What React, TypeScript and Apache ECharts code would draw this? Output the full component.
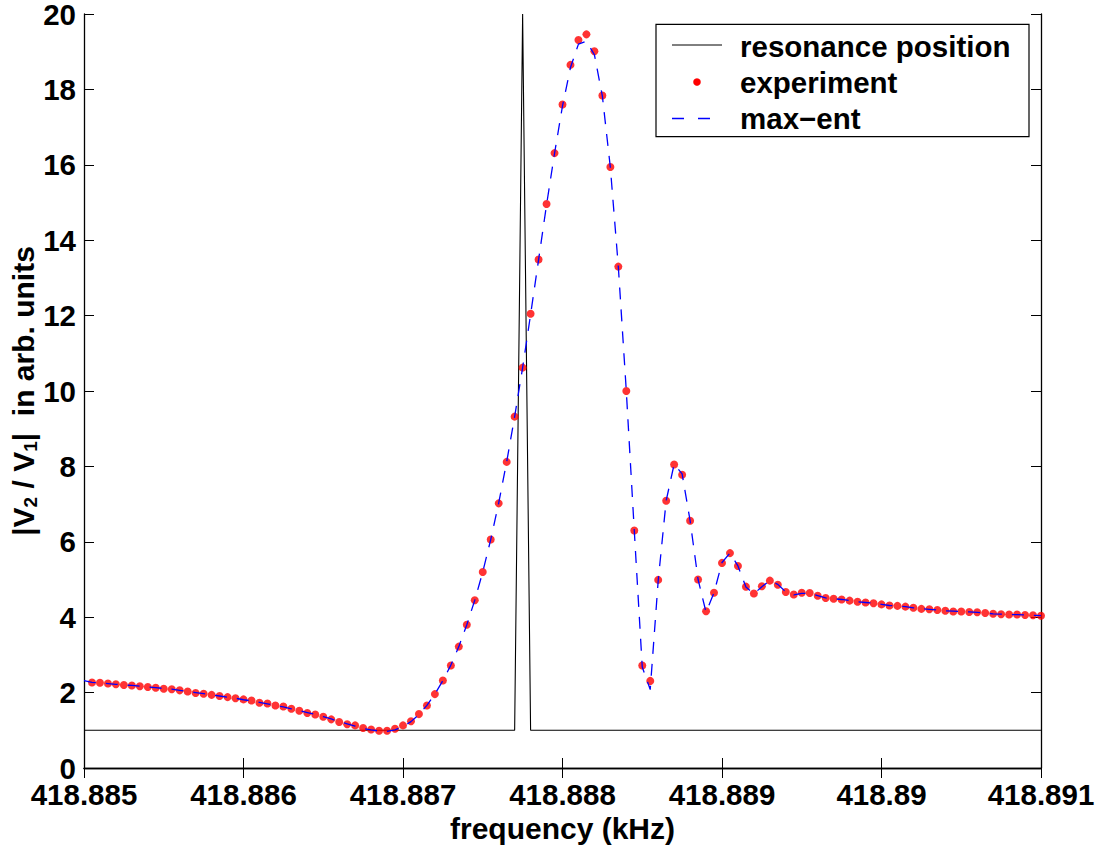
import React, { useEffect, useRef } from "react";
import * as echarts from "echarts";

// experiment sampling frequencies (kHz)
const freq = [
  418.88505, 418.8851, 418.88515, 418.8852, 418.88525, 418.8853, 418.88535, 418.8854, 418.88545, 418.8855,
  418.88555, 418.8856, 418.88565, 418.8857, 418.88575, 418.8858, 418.88585, 418.8859, 418.88595, 418.886,
  418.88605, 418.8861, 418.88615, 418.8862, 418.88625, 418.8863, 418.88635, 418.8864, 418.88645, 418.8865,
  418.88655, 418.8866, 418.88665, 418.8867, 418.88675, 418.8868, 418.88685, 418.8869, 418.88695, 418.887,
  418.88705, 418.8871, 418.88715, 418.8872, 418.88725, 418.8873, 418.88735, 418.8874, 418.88745, 418.8875,
  418.88755, 418.8876, 418.88765, 418.8877, 418.88775, 418.8878, 418.88785, 418.8879, 418.88795, 418.888,
  418.88805, 418.8881, 418.88815, 418.8882, 418.88825, 418.8883, 418.88835, 418.8884, 418.88845, 418.8885,
  418.88855, 418.8886, 418.88865, 418.8887, 418.88875, 418.8888, 418.88885, 418.8889, 418.88895, 418.889,
  418.88905, 418.8891, 418.88915, 418.8892, 418.88925, 418.8893, 418.88935, 418.8894, 418.88945, 418.8895,
  418.88955, 418.8896, 418.88965, 418.8897, 418.88975, 418.8898, 418.88985, 418.8899, 418.88995, 418.89,
  418.89005, 418.8901, 418.89015, 418.8902, 418.89025, 418.8903, 418.89035, 418.8904, 418.89045, 418.8905,
  418.89055, 418.8906, 418.89065, 418.8907, 418.89075, 418.8908, 418.89085, 418.8909, 418.89095, 418.891,
];

// measured |V2/V1|
const experiment = [
  2.27, 2.26, 2.24, 2.22, 2.2, 2.19, 2.17, 2.15, 2.13, 2.1,
  2.09, 2.06, 2.03, 1.99, 1.97, 1.94, 1.91, 1.88, 1.85, 1.82,
  1.79, 1.73, 1.71, 1.66, 1.63, 1.57, 1.52, 1.46, 1.42, 1.36,
  1.29, 1.22, 1.16, 1.13, 1.06, 1.02, 0.99, 0.99, 1.04, 1.13,
  1.24, 1.43, 1.66, 1.96, 2.32, 2.72, 3.22, 3.8, 4.45, 5.2,
  6.06, 7.02, 8.12, 9.32, 10.62, 12.05, 13.49, 14.96, 16.31, 17.6,
  18.65, 19.31, 19.46, 19.01, 17.84, 15.94, 13.3, 10.0, 6.3, 2.72,
  2.31, 4.99, 7.09, 8.05, 7.78, 6.56, 5.0, 4.16, 4.65, 5.44,
  5.7, 5.36, 4.81, 4.63, 4.82, 4.97, 4.86, 4.67, 4.6, 4.65,
  4.64, 4.57, 4.51, 4.49, 4.47, 4.44, 4.41, 4.39, 4.37, 4.34,
  4.31, 4.3, 4.28, 4.25, 4.22, 4.21, 4.19, 4.17, 4.15, 4.15,
  4.14, 4.13, 4.11, 4.09, 4.08, 4.07, 4.07, 4.06, 4.05, 4.04,
];

// max-ent reconstruction (starts at the left axis limit)
const maxentFreq = [418.885].concat(freq);
const maxent = [
  2.32,
  2.27, 2.26, 2.24, 2.22, 2.2, 2.19, 2.17, 2.15, 2.13, 2.11,
  2.09, 2.06, 2.03, 2.0, 1.97, 1.94, 1.91, 1.88, 1.85, 1.81,
  1.78, 1.74, 1.7, 1.66, 1.62, 1.57, 1.52, 1.47, 1.42, 1.36,
  1.3, 1.23, 1.17, 1.11, 1.05, 1.01, 0.98, 0.97, 1.01, 1.1,
  1.23, 1.42, 1.66, 1.96, 2.32, 2.73, 3.22, 3.8, 4.45, 5.2,
  6.06, 7.03, 8.12, 9.32, 10.62, 12.03, 13.48, 14.94, 16.3, 17.56,
  18.58, 19.2, 19.28, 18.92, 17.82, 15.93, 13.3, 10.0, 6.3, 2.68,
  2.08, 4.97, 7.09, 8.06, 7.8, 6.56, 5.0, 4.13, 4.65, 5.45,
  5.7, 5.36, 4.8, 4.62, 4.81, 4.97, 4.87, 4.67, 4.59, 4.63,
  4.63, 4.57, 4.51, 4.49, 4.47, 4.44, 4.41, 4.39, 4.37, 4.34,
  4.31, 4.3, 4.28, 4.25, 4.23, 4.21, 4.19, 4.17, 4.16, 4.15,
  4.14, 4.13, 4.11, 4.09, 4.08, 4.07, 4.07, 4.06, 4.05, 4.04,
];

// resonance position marker
const resFreq = [418.885, 418.8877, 418.88775, 418.8878, 418.891];
const resVals = [1, 1, 20, 1, 1];

const legendLabels = ["resonance position", "experiment", "max\u2212ent"];
const xTitle = "frequency (kHz)";

const FONT = "'Liberation Sans', Arial, Helvetica, sans-serif";
const FS = 29.5;

export default function App() {
  const ref = useRef<HTMLDivElement>(null);

  useEffect(() => {
    if (!ref.current) return;
    document.body.style.margin = "0";
    const chart = echarts.init(ref.current, undefined, { renderer: "svg", width: 1099, height: 846 });

    const pairs = (xs: number[], ys: number[]) => xs.map((x, i) => [x, ys[i]]);

    const axisLine = { show: true, lineStyle: { color: "#000", width: 1.3 } };
    const axisTick = { show: true, inside: true, length: 10, lineStyle: { color: "#000", width: 1 } };
    const labelStyle = { color: "#000", fontFamily: FONT, fontWeight: "bold" as const, fontSize: FS };
    const fmtX = (v: number) => String(parseFloat(v.toFixed(3)));

    const legendX = 656;
    const legendY = 24.3;
    const rows = [46.5, 82, 118.5];

    chart.setOption({
      animation: false,
      backgroundColor: "#fff",
      grid: { left: 84, right: 58, top: 14, bottom: 78, containLabel: false, outerBoundsMode: "none" },
      xAxis: [
        {
          type: "value",
          min: 418.885,
          max: 418.891,
          interval: 0.001,
          position: "bottom",
          axisLine,
          axisTick,
          splitLine: { show: false },
          axisLabel: { ...labelStyle, margin: 11, formatter: fmtX, showMinLabel: true, showMaxLabel: true },
          name: xTitle,
          nameLocation: "middle",
          nameGap: 45,
          nameMoveOverlap: false,
          nameTextStyle: { ...labelStyle, fontSize: 30 },
        },
        {
          type: "value",
          min: 418.885,
          max: 418.891,
          interval: 0.001,
          position: "top",
          axisLine,
          axisTick,
          splitLine: { show: false },
          axisLabel: { show: false },
        },
      ],
      yAxis: [
        {
          type: "value",
          min: 0,
          max: 20,
          interval: 2,
          position: "left",
          axisLine,
          axisTick,
          splitLine: { show: false },
          axisLabel: { ...labelStyle, margin: 8, lineHeight: 20 },
          name: "{m||V}{s|2}{m| / V}{s|1}{m||  in arb. units}",
          nameLocation: "middle",
          nameRotate: 90,
          nameGap: 44,
          nameMoveOverlap: false,
          nameTextStyle: {
            ...labelStyle,
            fontSize: 30,
            rich: {
              m: { fontFamily: FONT, fontWeight: "bold", fontSize: 30, lineHeight: 34, color: "#000" },
              s: {
                fontFamily: FONT,
                fontWeight: "bold",
                fontSize: 19,
                lineHeight: 13,
                verticalAlign: "bottom",
                color: "#000",
              },
            },
          },
        },
        {
          type: "value",
          min: 0,
          max: 20,
          interval: 2,
          position: "right",
          axisLine,
          axisTick,
          splitLine: { show: false },
          axisLabel: { show: false },
        },
      ],
      series: [
        {
          name: legendLabels[0],
          type: "line",
          data: pairs(resFreq, resVals),
          symbol: "none",
          lineStyle: { color: "#000", width: 1.1 },
          z: 2,
        },
        {
          name: legendLabels[1],
          type: "scatter",
          data: pairs(freq, experiment),
          symbol: "circle",
          symbolSize: 8,
          itemStyle: { color: "#ff0000" },
          z: 3,
        },
        {
          name: legendLabels[2],
          type: "line",
          data: pairs(maxentFreq, maxent),
          symbol: "none",
          lineStyle: { color: "#0000ff", width: 1.3, type: [12, 10] },
          z: 4,
        },
      ],
      graphic: [
        {
          type: "rect",
          shape: { x: legendX, y: legendY, width: 373, height: 112.4 },
          style: { fill: "#fff", stroke: "#000", lineWidth: 1.2 },
          z: 100,
        },
        {
          type: "line",
          shape: { x1: 672, y1: rows[0] - 1.5, x2: 722, y2: rows[0] - 1.5 },
          style: { stroke: "#000", lineWidth: 1 },
          z: 101,
        },
        {
          type: "circle",
          shape: { cx: 697, cy: rows[1], r: 3.8 },
          style: { fill: "#ff0000" },
          z: 101,
        },
        {
          type: "line",
          shape: { x1: 672, y1: rows[2], x2: 722, y2: rows[2] },
          style: { stroke: "#0000ff", lineWidth: 1.3, lineDash: [12, 14] },
          z: 101,
        },
        ...legendLabels.map((t, i) => ({
          type: "text",
          x: 740,
          y: rows[i],
          style: {
            text: t,
            fill: "#000",
            font: `bold ${FS}px ${FONT}`,
            textVerticalAlign: "middle",
            verticalAlign: "middle",
            textAlign: "left",
          },
          z: 101,
        })),
      ],
    });

    return () => chart.dispose();
  }, []);

  return <div ref={ref} style={{ width: 1099, height: 846, background: "#fff" }} />;
}
